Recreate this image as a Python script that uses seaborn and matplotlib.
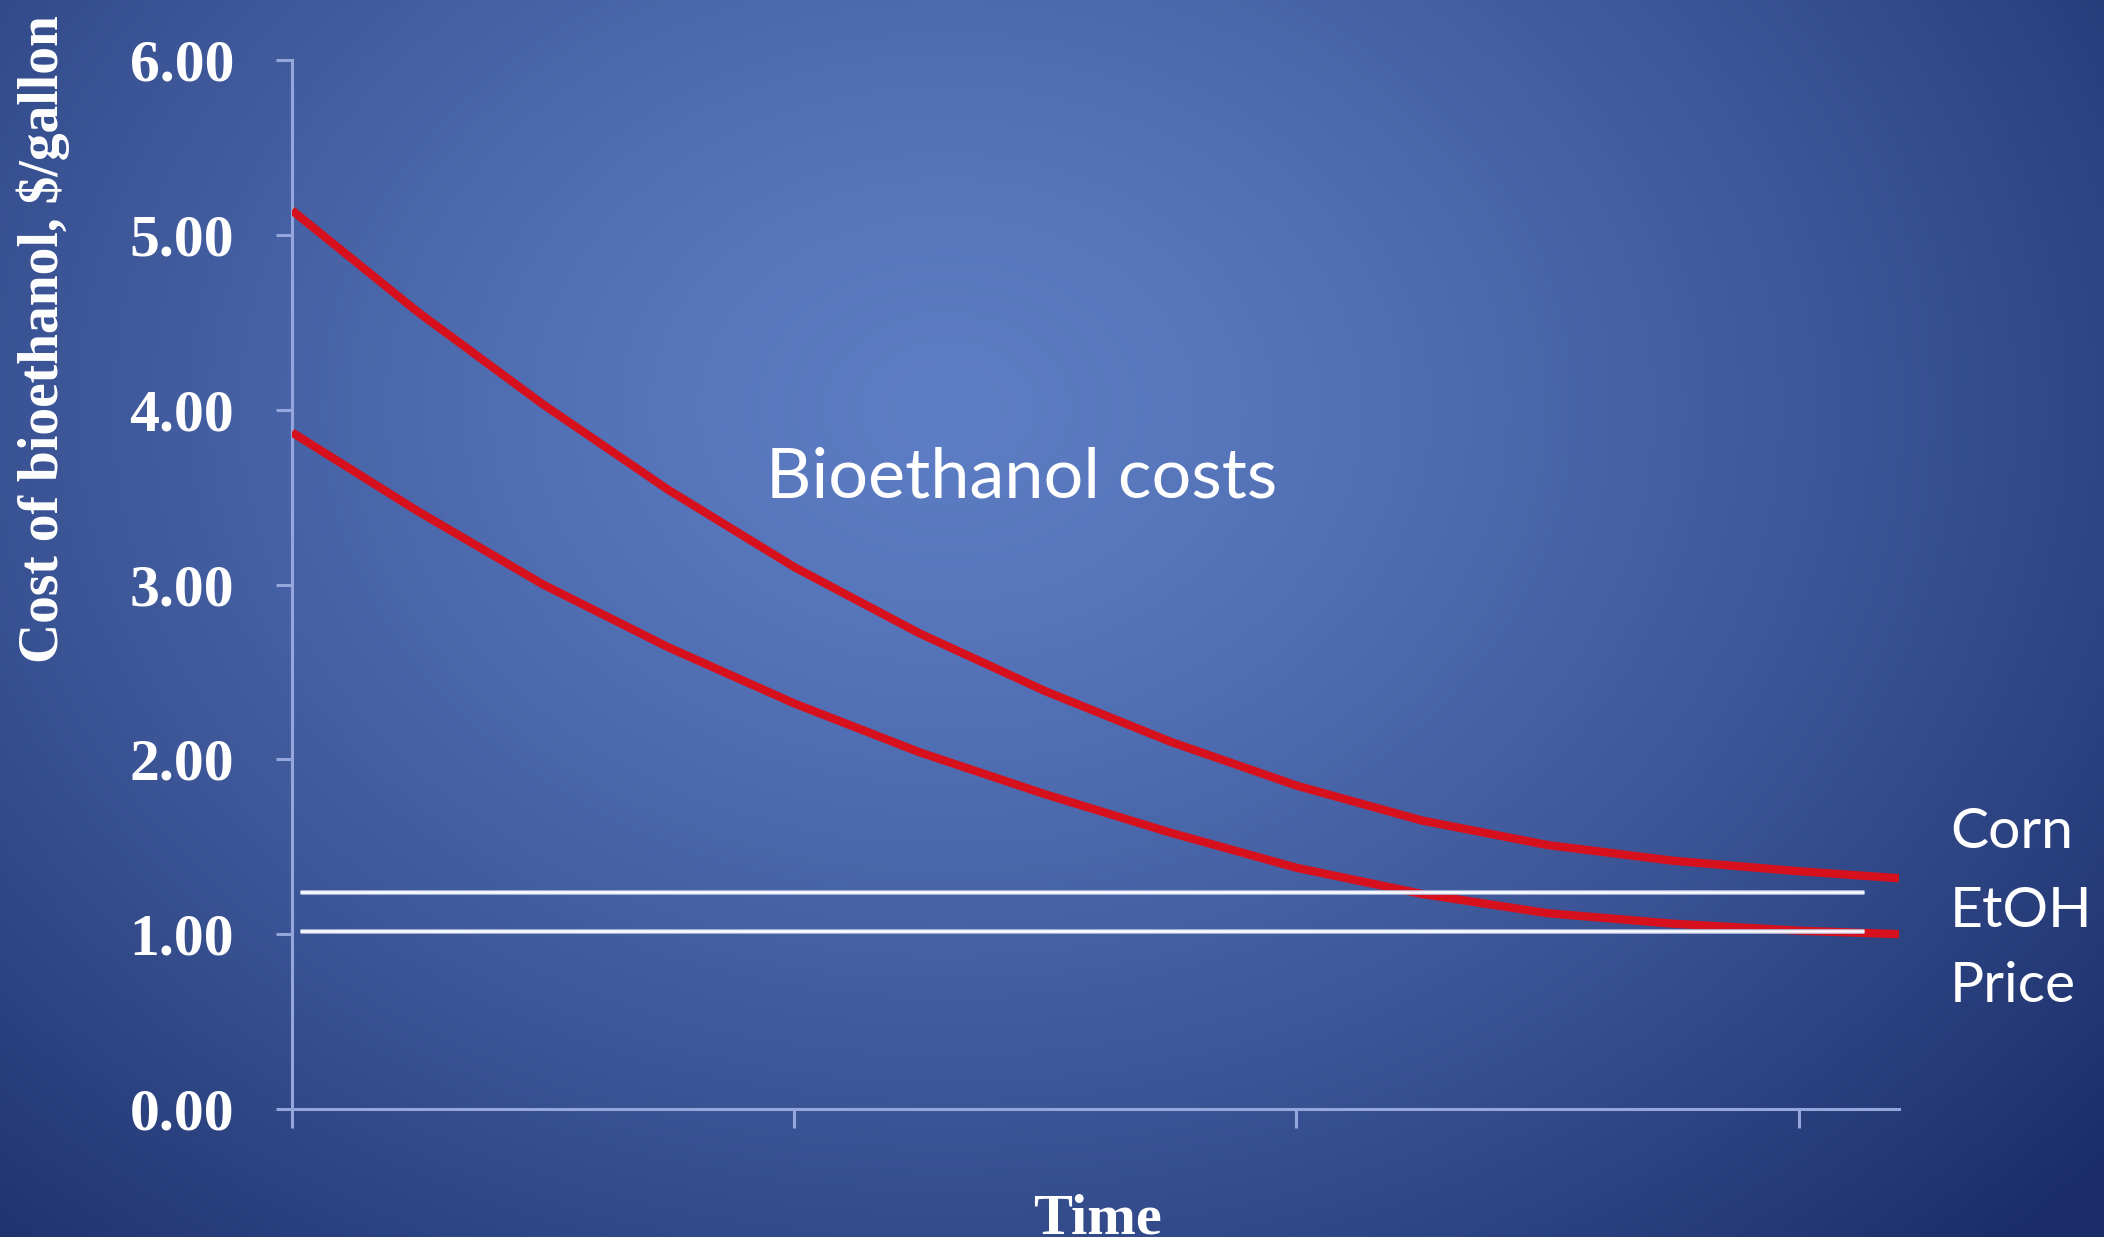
import numpy as np
import pandas as pd
import matplotlib
matplotlib.use("Agg")
import matplotlib.pyplot as plt
import seaborn as sns

# ---- data ----
time_pts = [0.0, 0.25, 0.5, 0.75, 1.0, 1.25, 1.5, 1.75, 2.0, 2.25, 2.5, 2.75, 3.0, 3.2]
cost_high = [5.14, 4.56, 4.03, 3.54, 3.10, 2.72, 2.39, 2.10, 1.85, 1.65, 1.51, 1.42, 1.36, 1.32]
cost_low = [3.87, 3.42, 3.00, 2.64, 2.32, 2.04, 1.80, 1.58, 1.38, 1.23, 1.12, 1.06, 1.02, 1.00]
price_levels = [1.24, 1.02]
price_span = [0.015, 3.13]
y_ticks = [0, 1, 2, 3, 4, 5, 6]
x_ticks = [0, 1, 2, 3]
side_labels = ["Corn", "EtOH", "Price"]

sns.set_theme(style="white")
plt.rcParams["font.family"] = ["Liberation Serif", "DejaVu Serif"]
plt.rcParams["font.weight"] = "bold"
plt.rcParams["lines.solid_capstyle"] = "butt"

W, H = 2104, 1237
fig = plt.figure(figsize=(W / 100, H / 100), dpi=100)

# background radial gradient
yy, xx = np.mgrid[0:H, 0:W]
cx, cy = 0.45 * W, 0.33 * H
d = np.sqrt(((xx - cx) / (0.72 * W)) ** 2 + ((yy - cy) / (0.95 * H)) ** 2)
t = np.clip(d, 0, 1) ** 1.35
c0 = np.array([93, 125, 196]) / 255.0
c1 = np.array([26, 45, 104]) / 255.0
img = c0[None, None, :] * (1 - t[..., None]) + c1[None, None, :] * t[..., None]
bg = fig.add_axes([0, 0, 1, 1], zorder=0)
bg.imshow(img, aspect="auto", interpolation="bilinear")
bg.axis("off")

ax = fig.add_axes([292 / W, 1 - 1109 / H, (1899 - 292) / W, (1109 - 60) / H], zorder=1)
ax.set_facecolor("none")

df = pd.DataFrame({
    "time": time_pts * 2,
    "cost": cost_high + cost_low,
    "series": ["high"] * len(time_pts) + ["low"] * len(time_pts),
})
red = "#d6101d"
sns.lineplot(data=df, x="time", y="cost", hue="series", palette=[red, red],
             estimator=None, sort=False, linewidth=6, legend=False, ax=ax,
             zorder=3)
for ln in ax.get_lines():
    ln.set_solid_joinstyle("round")

for lvl in price_levels:
    ax.hlines(lvl, price_span[0], price_span[1], colors="#b9c6e6", linewidth=3.6,
              alpha=0.8, zorder=4)
    ax.hlines(lvl, price_span[0], price_span[1], colors="white", linewidth=1.8,
              zorder=5)

ax.set_xlim(0, 3.2)
ax.set_ylim(0, 6)
spine_col = "#95a6dc"
for s in ["top", "right"]:
    ax.spines[s].set_visible(False)
for s in ["left", "bottom"]:
    ax.spines[s].set_color(spine_col)
    ax.spines[s].set_linewidth(2.2)

ax.set_yticks(y_ticks)
ax.set_yticklabels([f"{v:.2f}" for v in y_ticks])
ax.set_xticks(x_ticks)
ax.set_xticklabels([])
ax.tick_params(axis="y", direction="out", length=11.5, width=2.2, color=spine_col,
               pad=30, labelsize=43, labelcolor="white", left=True)
ax.tick_params(axis="x", direction="out", length=13.7, width=2.2, color=spine_col,
               bottom=True)
for lab in ax.get_yticklabels():
    lab.set_fontweight("bold")
ax.set_xlabel("")
ax.set_ylabel("")

fig.text(43 / W, 1 - 339 / H, "Cost of bioethanol, $/gallon", rotation=90,
         ha="center", va="center", fontsize=40, fontweight="bold", color="white")
fig.text(1097 / W, 1 - 1193 / H, "Time", ha="center", va="top", fontsize=42,
         fontweight="bold", color="white")

fig.text(766 / W, 1 - 497 / H, "Bioethanol costs", ha="left", va="baseline",
         fontsize=50.5, family=["Lato", "DejaVu Sans"], fontweight="normal", color="white")
for lab, base in zip(side_labels, [848, 927, 1002]):
    fig.text(1950 / W, 1 - base / H, lab, ha="left", va="baseline", fontsize=41,
             family=["Lato", "DejaVu Sans"], fontweight="normal", color="white")

fig.savefig("out.png", dpi=100)
